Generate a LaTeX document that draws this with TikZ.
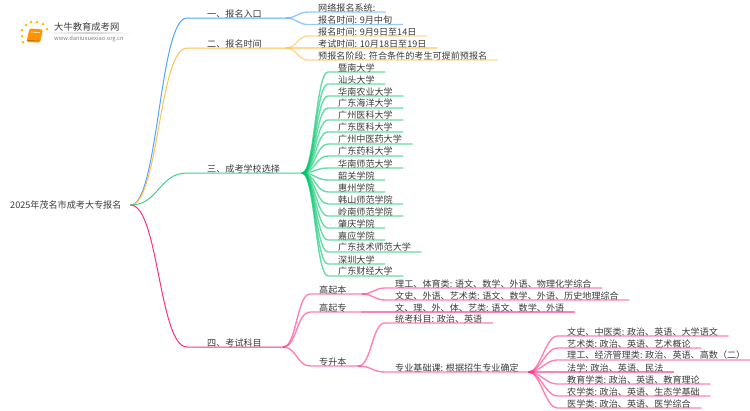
\documentclass[tikz,border=0pt]{standalone}
\usepackage{fontspec}
\setmainfont{Noto Sans CJK SC}
\definecolor{blueline}{HTML}{4DA6FF}
\definecolor{orangeline}{HTML}{FFBF4D}
\definecolor{greenline}{HTML}{00C46A}
\definecolor{pinkline}{HTML}{FF2E85}
\definecolor{inktext}{HTML}{3A3A3A}
\tikzset{
  rootbox/.style={inner xsep=9pt,inner ysep=0pt,anchor=west,font=\fontsize{9.1}{9}\selectfont,text=inktext},
  midbox/.style 2 args={inner xsep=0pt,inner ysep=0pt,anchor=south west,text width=#1,align=left,execute at begin node={\hspace*{#2}},font=\fontsize{9.1}{9}\selectfont,text=inktext},
  leafbox/.style={inner xsep=10pt,inner ysep=0pt,anchor=south west,font=\fontsize{9.1}{9}\selectfont,text=inktext},
  stem/.style={line width=1pt,line cap=round},
  twig/.style={line width=1.4pt,line cap=round,opacity=.6}
}
\begin{document}
\begin{tikzpicture}[x=1pt,y=-1pt,line join=round]
	\useasboundingbox (0,0) rectangle (750,410);
	% logo
	\fill[orange!85!yellow,rounded corners=1.5pt] (29.5,28.5) -- (43,29.5) -- (40,42.5) -- (26.5,42) -- cycle;
	\draw[white,line width=.6pt] (31,32) -- (40,32.5);
	\draw[orange!70!black,line width=.5pt] (27.5,40.5) -- (39.5,41);
	\foreach \px/\py in {22/36,22/30,26/25,31/22,37/22,43/24,47/29,23/42}
		\fill[orange!50!yellow] (\px,\py) circle (1.5pt);
	\node[inner sep=0pt,anchor=west,font=\fontsize{9.3}{9}\selectfont,text=inktext] (logoname) at (54,27) {大牛教育成考网};
	\node[inner sep=0pt,anchor=west,font=\fontsize{5.75}{6}\selectfont,text=gray] (logourl) at (54,38.5) {www.daniuxuexiao.org.cn};
	\shade[left color=white,right color=white,middle color=black!18] (45,32.7) rectangle (132,33.3);
	% root and first level
	\node[rootbox] (root) at (1,205) {2025年茂名市成考大专报名};
	\node[midbox={99pt}{20pt}] (one) at (187,18) {一、报名入口};
	\node[midbox={99pt}{20pt}] (two) at (187,48) {二、报名时间};
	\node[midbox={115pt}{20pt}] (three) at (187,173) {三、成考学校选择};
	\node[midbox={96pt}{20pt}] (four) at (187,347) {四、考试科目};
	\draw[stem,blueline] (root.east) .. controls +(28,0) and +(-28,0) .. (one.south west) -- (one.south east);
	\draw[stem,orangeline] (root.east) .. controls +(28,0) and +(-28,0) .. (two.south west) -- (two.south east);
	\draw[stem,greenline!75] (root.east) .. controls +(28,0) and +(-28,0) .. (three.south west) -- (three.south east);
	\draw[stem,pinkline] (root.east) .. controls +(28,0) and +(-28,0) .. (four.south west) -- (four.south east);
	% branch one
	\node[leafbox] (onea) at (308,12) {网络报名系统:\hspace{-10pt}};
	\node[leafbox] (oneb) at (308,24.5) {报名时间: 9月中旬};
	\draw[twig,blueline] (one.south east) .. controls +(10,0) and +(-10,0) .. (onea.south west) -- (onea.south east);
	\draw[twig,blueline] (one.south east) .. controls +(10,0) and +(-10,0) .. (oneb.south west) -- (oneb.south east);
	% branch two
	\node[leafbox] (twoa) at (308,36) {报名时间: 9月9日至14日};
	\node[leafbox] (twob) at (308,48) {考试时间: 10月18日至19日};
	\node[leafbox] (twoc) at (308,60) {预报名阶段: 符合条件的考生可提前预报名};
	\draw[twig,orangeline] (two.south east) .. controls +(10,0) and +(-10,0) .. (twoa.south west) -- (twoa.south east);
	\draw[twig,orangeline] (two.south east) -- (twob.south west) -- (twob.south east);
	\draw[twig,orangeline] (two.south east) .. controls +(10,0) and +(-10,0) .. (twoc.south west) -- (twoc.south east);
	% branch three
	\node[leafbox] (s1) at (328,72) {暨南大学};
	\node[leafbox] (s2) at (328,84) {汕头大学};
	\node[leafbox] (s3) at (328,96) {华南农业大学};
	\node[leafbox] (s4) at (328,108) {广东海洋大学};
	\node[leafbox] (s5) at (328,120) {广州医科大学};
	\node[leafbox] (s6) at (328,132) {广东医科大学};
	\node[leafbox] (s7) at (328,144) {广州中医药大学};
	\node[leafbox] (s8) at (328,156) {广东药科大学};
	\node[leafbox] (s9) at (328,168) {华南师范大学};
	\node[leafbox] (s10) at (328,180) {韶关学院};
	\node[leafbox] (s11) at (328,192) {惠州学院};
	\node[leafbox] (s12) at (328,204) {韩山师范学院};
	\node[leafbox] (s13) at (328,216) {岭南师范学院};
	\node[leafbox] (s14) at (328,228) {肇庆学院};
	\node[leafbox] (s15) at (328,240) {嘉应学院};
	\node[leafbox] (s16) at (328,252) {广东技术师范大学};
	\node[leafbox] (s17) at (328,264) {深圳大学};
	\node[leafbox] (s18) at (328,276) {广东财经大学};
	\foreach \leaf in {s1,s2,s3,s4,s5,s6,s7,s8,s9,s10,s11,s12,s13,s14,s15,s16,s17,s18}
		\draw[twig,greenline] (three.south east) .. controls +(12,0) and +(-12,0) .. (\leaf.south west) -- (\leaf.south east);
	% branch four
	\node[midbox={52pt}{9pt}] (gqb) at (310,294) {高起本};
	\node[midbox={52pt}{9pt}] (gqz) at (310,312) {高起专};
	\node[midbox={48pt}{9pt}] (zsb) at (310,366) {专升本};
	\draw[twig,pinkline] (four.south east) .. controls +(13,0) and +(-13,0) .. (gqb.south west) -- (gqb.south east);
	\draw[twig,pinkline] (four.south east) .. controls +(13,0) and +(-13,0) .. (gqz.south west) -- (gqz.south east);
	\draw[twig,pinkline] (four.south east) .. controls +(13,0) and +(-13,0) .. (zsb.south west) -- (zsb.south east);
	\node[leafbox] (gqba) at (385,288) {理工、体育类: 语文、数学、外语、物理化学综合};
	\node[leafbox] (gqbb) at (385,300) {文史、外语、艺术类: 语文、数学、外语、历史地理综合};
	\node[leafbox] (gqza) at (385,312) {文、理、外、体、艺类: 语文、数学、外语};
	\node[leafbox] (zsba) at (385,323) {统考科目: 政治、英语};
	\node[leafbox] (zsbb) at (385,372) {专业基础课: 根据招生专业确定};
	\draw[twig,pinkline] (gqb.south east) .. controls +(10,0) and +(-10,0) .. (gqba.south west) -- (gqba.south east);
	\draw[twig,pinkline] (gqb.south east) .. controls +(10,0) and +(-10,0) .. (gqbb.south west) -- (gqbb.south east);
	\draw[twig,pinkline] (gqz.south east) -- (gqza.south west) -- (gqza.south east);
	\draw[twig,pinkline] (zsb.south east) .. controls +(13,0) and +(-13,0) .. (zsba.south west) -- (zsba.south east);
	\draw[twig,pinkline] (zsb.south east) .. controls +(13,0) and +(-13,0) .. (zsbb.south west) -- (zsbb.south east);
	\node[leafbox] (k1) at (557,336) {文史、中医类: 政治、英语、大学语文};
	\node[leafbox] (k2) at (557,348) {艺术类: 政治、英语、艺术概论};
	\node[leafbox] (k3) at (557,360) {理工、经济管理类: 政治、英语、高数（二）};
	\node[leafbox] (k4) at (557,372) {法学: 政治、英语、民法};
	\node[leafbox] (k5) at (557,384) {教育学类: 政治、英语、教育理论};
	\node[leafbox] (k6) at (557,396) {农学类: 政治、英语、生态学基础};
	\node[leafbox] (k7) at (557,408) {医学类: 政治、英语、医学综合};
	\foreach \leaf in {k1,k2,k3,k4,k5,k6,k7}
		\draw[twig,pinkline] (zsbb.south east) .. controls +(11,0) and +(-11,0) .. (\leaf.south west) -- (\leaf.south east);
\end{tikzpicture}
\end{document}
